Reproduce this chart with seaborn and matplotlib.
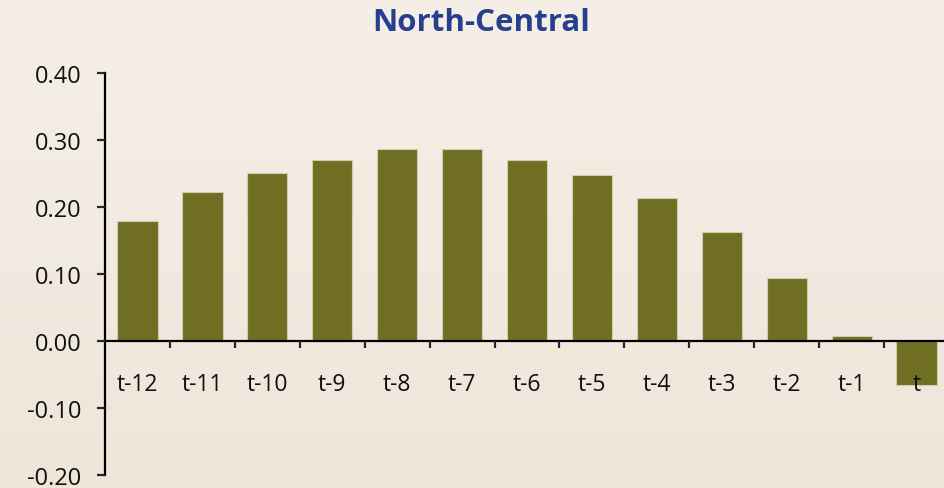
import numpy as np
import pandas as pd
import matplotlib
matplotlib.use("Agg")
import matplotlib.pyplot as plt
from matplotlib.colors import LinearSegmentedColormap
import seaborn as sns

# Coefficients by lag for the North-Central region
periods = ["t-12", "t-11", "t-10", "t-9", "t-8", "t-7", "t-6",
           "t-5", "t-4", "t-3", "t-2", "t-1", "t"]
values = [0.179, 0.222, 0.251, 0.270, 0.287, 0.287, 0.270,
          0.248, 0.213, 0.163, 0.094, 0.007, -0.066]
y_ticks = [-0.20, -0.10, 0.00, 0.10, 0.20, 0.30, 0.40]
title = "North-Central"

df = pd.DataFrame({"period": periods, "value": values})

sns.set_theme(style="white")
plt.rcParams["font.family"] = ["Open Sans", "DejaVu Sans"]

fig = plt.figure(figsize=(9.45, 4.89), dpi=100)

# soft vertical background gradient
bg = fig.add_axes([0, 0, 1, 1], zorder=-10)
grad = np.linspace(0, 1, 256).reshape(-1, 1)
cmap = LinearSegmentedColormap.from_list("bg", ["#F5EFE7", "#EFE6DA"])
bg.imshow(grad, aspect="auto", cmap=cmap, extent=[0, 1, 0, 1], origin="upper")
bg.set_axis_off()

ax = fig.add_axes([0.1111, 0.0266, 0.8932, 0.8221])
ax.patch.set_alpha(0)
ax.set_axisbelow(False)

sns.barplot(data=df, x="period", y="value", order=periods, color="#706E22",
            saturation=1, width=0.62, edgecolor="#D2CBAE", linewidth=0.8, ax=ax)

ax.set_ylim(-0.2, 0.4)
ax.set_xlim(-0.5, len(periods) - 0.5)
ax.set_yticks(y_ticks)
ax.set_yticklabels([f"{v:.2f}" for v in y_ticks], fontsize=17, color="#111111")
ax.set_xlabel("")
ax.set_ylabel("")

for s in ["top", "right"]:
    ax.spines[s].set_visible(False)
ax.spines["left"].set_linewidth(1.6)
ax.spines["left"].set_color("black")
ax.spines["bottom"].set_position(("data", 0))
ax.spines["bottom"].set_linewidth(1.6)
ax.spines["bottom"].set_color("black")

ax.tick_params(axis="y", direction="out", length=6, width=1.6, pad=11, left=True)
ax.set_xticks(np.arange(len(periods)))
ax.set_xticklabels(periods, fontsize=16.5, color="#111111")
ax.tick_params(axis="x", which="major", length=0, pad=22, bottom=True)
ax.set_xticks(np.arange(len(periods) - 1) + 0.5, minor=True)
ax.tick_params(axis="x", which="minor", direction="out", length=5, width=1.6, bottom=True)

fig.text(0.509, 0.953, title, ha="center", va="center", fontsize=22.5,
         fontweight="bold", color="#263F8E")

fig.savefig("out.png", dpi=100)
